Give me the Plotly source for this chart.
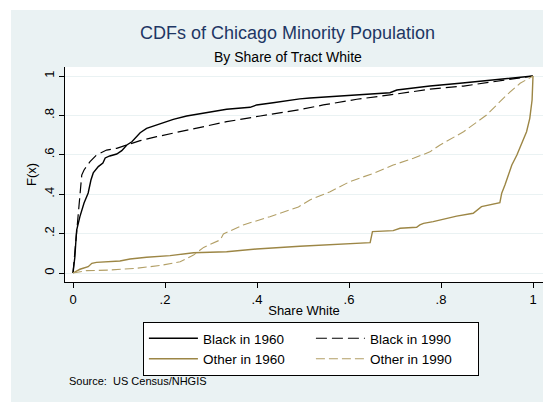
import plotly.graph_objects as go

# CDF curves (share white -> F(x))
black60_x = [0, 0.004, 0.0065, 0.008, 0.015, 0.024, 0.033, 0.039, 0.044, 0.055, 0.065, 0.070, 0.080,
             0.095, 0.106, 0.117, 0.128, 0.135, 0.146, 0.160, 0.182, 0.211, 0.218, 0.247, 0.298,
             0.334, 0.385, 0.399, 0.435, 0.464, 0.493, 0.515, 0.588, 0.689, 0.704, 0.754, 0.776,
             0.841, 0.928, 1.0]
black60_y = [0, 0.08, 0.17, 0.218, 0.286, 0.355, 0.406, 0.472, 0.508, 0.540, 0.558, 0.584, 0.594,
             0.604, 0.621, 0.650, 0.666, 0.685, 0.712, 0.734, 0.751, 0.772, 0.780, 0.797, 0.819,
             0.831, 0.841, 0.853, 0.864, 0.875, 0.884, 0.888, 0.898, 0.915, 0.929, 0.943, 0.949,
             0.963, 0.983, 1.0]

black90_x = [0, 0.004, 0.008, 0.0115, 0.019, 0.024, 0.037, 0.051, 0.073, 0.095, 0.117, 0.146, 0.182,
             0.211, 0.262, 0.334, 0.407, 0.493, 0.544, 0.617, 0.689, 0.754, 0.776, 0.849, 0.935, 1.0]
black90_y = [0, 0.10, 0.201, 0.303, 0.497, 0.523, 0.565, 0.599, 0.624, 0.633, 0.650, 0.672, 0.692,
             0.707, 0.734, 0.768, 0.797, 0.829, 0.853, 0.882, 0.904, 0.925, 0.933, 0.949, 0.976, 1.0]

other60_x = [0, 0.015, 0.033, 0.041, 0.051, 0.102, 0.124, 0.160, 0.211, 0.262, 0.334, 0.399, 0.493,
             0.573, 0.646, 0.651, 0.696, 0.711, 0.747, 0.754, 0.762, 0.783, 0.834, 0.870, 0.888,
             0.928, 0.932, 0.939, 0.947, 0.954, 0.965, 0.975, 0.986, 0.993, 0.998, 1.0]
other60_y = [0, 0.019, 0.032, 0.049, 0.054, 0.061, 0.071, 0.080, 0.088, 0.103, 0.108, 0.122, 0.136,
             0.147, 0.154, 0.210, 0.215, 0.227, 0.232, 0.244, 0.252, 0.261, 0.289, 0.303, 0.337,
             0.357, 0.405, 0.447, 0.506, 0.548, 0.599, 0.658, 0.717, 0.785, 0.878, 1.0]

other90_x = [0, 0.030, 0.080, 0.138, 0.189, 0.211, 0.233, 0.262, 0.284, 0.320, 0.327, 0.370, 0.428,
             0.490, 0.515, 0.559, 0.602, 0.653, 0.696, 0.740, 0.776, 0.798, 0.849, 0.899, 0.943,
             0.972, 1.0]
other90_y = [0, 0.012, 0.015, 0.024, 0.038, 0.049, 0.057, 0.091, 0.130, 0.168, 0.198, 0.244, 0.286,
             0.335, 0.371, 0.413, 0.464, 0.506, 0.548, 0.582, 0.615, 0.650, 0.717, 0.802, 0.904,
             0.963, 1.0]

tick_vals = [0, 0.2, 0.4, 0.6, 0.8, 1]
tick_text = ["0", ".2", ".4", ".6", ".8", "1"]

BG = "#EAF2F3"
GOLD = "#9C8645"
FONT = "Liberation Sans, Arial, sans-serif"

fig = go.Figure()
fig.add_trace(go.Scatter(x=black60_x, y=black60_y, mode="lines", name="Black in 1960",
                         line=dict(color="black", width=1.4)))
fig.add_trace(go.Scatter(x=black90_x, y=black90_y, mode="lines", name="Black in 1990",
                         line=dict(color="black", width=1.2, dash="11px,5px")))
fig.add_trace(go.Scatter(x=other60_x, y=other60_y, mode="lines", name="Other in 1960",
                         line=dict(color=GOLD, width=1.4)))
fig.add_trace(go.Scatter(x=other90_x, y=other90_y, mode="lines", name="Other in 1990",
                         line=dict(color="#B29F66", width=1.1, dash="9px,4px")))

# page body keeps its 8px default margin, so the figure is 8px smaller each way
fig.update_layout(
    width=543, height=394,
    margin=dict(l=57, r=8, t=59, b=120, autoexpand=False),
    paper_bgcolor=BG, plot_bgcolor="white",
    font=dict(family=FONT, color="black", size=13),
    showlegend=True,
    legend=dict(orientation="h", x=0.163, xanchor="left", y=-0.186, yanchor="top",
                bgcolor="white", bordercolor="black", borderwidth=1,
                font=dict(size=13.5), itemwidth=49, entrywidth=103),
    annotations=[
        dict(text="CDFs of Chicago Minority Population", xref="paper", yref="paper",
             x=0.4665, y=1 + 34 / 215, xanchor="center", yanchor="middle", showarrow=False,
             font=dict(size=18, color="#1E3764")),
        dict(text="By Share of Tract White", xref="paper", yref="paper",
             x=0.4665, y=1 + 10 / 215, xanchor="center", yanchor="middle", showarrow=False,
             font=dict(size=14)),
        dict(text="Source:  US Census/NHGIS", xref="paper", yref="paper",
             x=0.004, y=(282 - 381) / 215, xanchor="left", yanchor="middle", showarrow=False,
             font=dict(size=11)),
    ],
    shapes=[
        dict(type="rect", xref="paper", yref="paper", x0=-1, x1=2, y0=1 + 57 / 215, y1=2,
             fillcolor="white", line=dict(width=0), layer="below"),
        dict(type="rect", xref="paper", yref="paper", x0=-1, x1=-54 / 478, y0=-2, y1=2,
             fillcolor="white", line=dict(width=0), layer="below"),
    ],
)

fig.update_xaxes(range=[-8 / 460, 1 + 10 / 460], tickvals=tick_vals, ticktext=tick_text,
                 showgrid=False, zeroline=False, showline=True, linecolor="black", linewidth=1,
                 ticks="outside", ticklen=5, tickcolor="black",
                 title=dict(text="Share White", standoff=0, font=dict(size=13)))
fig.update_yaxes(range=[-9 / 197, 1 + 9 / 197], tickvals=tick_vals, ticktext=tick_text,
                 tickangle=-90, showgrid=True, gridcolor=BG, gridwidth=1.2, zeroline=False,
                 showline=True, linecolor="black", linewidth=1,
                 ticks="outside", ticklen=5, tickcolor="black",
                 title=dict(text="F(x)", standoff=2, font=dict(size=13)))

fig.write_html("out.html")
